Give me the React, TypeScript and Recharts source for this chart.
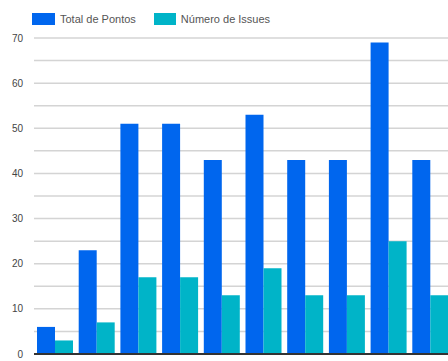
import React from "react";
import { BarChart, Bar, XAxis, YAxis, CartesianGrid } from "recharts";

// Per-sprint totals: story points and issue count
const sprints = ["S1", "S2", "S3", "S4", "S5", "S6", "S7", "S8", "S9", "S10"];
const totalPontos = [6, 23, 51, 51, 43, 53, 43, 43, 69, 43];
const numeroIssues = [3, 7, 17, 17, 13, 19, 13, 13, 25, 13];
const yTicks = [0, 5, 10, 15, 20, 25, 30, 35, 40, 45, 50, 55, 60, 65, 70];

const seriesNames = ["Total de Pontos", "Número de Issues"];
const BLUE = "#0066EE";
const TEAL = "#00B4C8";

const data = sprints.map((s, i) => ({
  sprint: s,
  pontos: totalPontos[i],
  issues: numeroIssues[i],
}));

const font = "'Liberation Sans', Arial, sans-serif";

export default function App() {
  return (
    <div
      style={{
        position: "fixed",
        left: 0,
        top: 0,
        width: 448,
        height: 361,
        overflow: "hidden",
        background: "#fff",
        fontFamily: font,
      }}
    >
      {/* legend row */}
      <div style={{ position: "absolute", left: 32, top: 13, height: 12, display: "flex", alignItems: "center", fontSize: 11, color: "#555" }}>
        <span style={{ width: 23, height: 12, background: BLUE, display: "inline-block" }} />
        <span style={{ marginLeft: 5 }}>{seriesNames[0]}</span>
        <span style={{ width: 22, height: 12, background: TEAL, display: "inline-block", marginLeft: 18 }} />
        <span style={{ marginLeft: 5 }}>{seriesNames[1]}</span>
      </div>
      <div style={{ position: "absolute", left: 0, top: 0 }}>
        <BarChart
          width={451}
          height={361}
          data={data}
          margin={{ top: 38, right: 0, left: 0, bottom: 0 }}
          barGap={0}
        >
          <CartesianGrid vertical={false} stroke="#d4d4d4" strokeWidth={1.5} />
          <XAxis
            dataKey="sprint"
            height={7}
            tick={false}
            tickLine={false}
            axisLine={{ stroke: "#333", strokeWidth: 2 }}
          />
          <YAxis
            width={34}
            domain={[0, 70]}
            ticks={yTicks}
            interval={0}
            tickSize={0}
            tickMargin={11}
            axisLine={false}
            tickLine={false}
            tickFormatter={(v: number) => (v % 10 === 0 ? String(v) : "")}
            tick={{ fontSize: 10, fill: "#444", fontFamily: font }}
          />
          <Bar dataKey="pontos" name={seriesNames[0]} fill={BLUE} barSize={18} isAnimationActive={false} />
          <Bar dataKey="issues" name={seriesNames[1]} fill={TEAL} barSize={18} isAnimationActive={false} />
        </BarChart>
      </div>
    </div>
  );
}
